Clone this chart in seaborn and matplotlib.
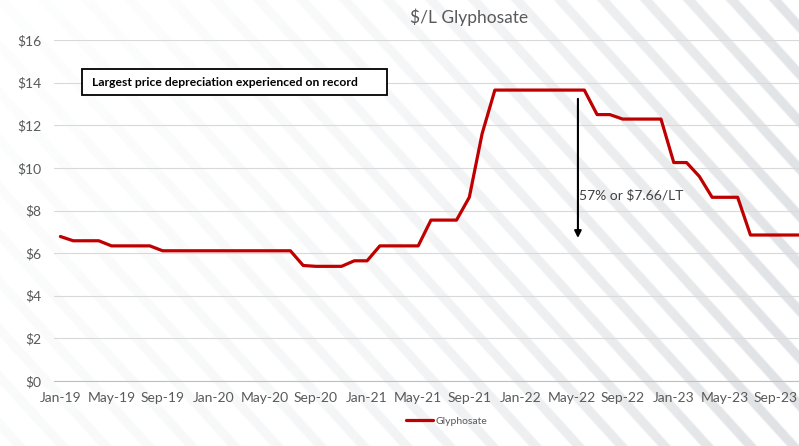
import numpy as np
import pandas as pd
import seaborn as sns
import matplotlib.pyplot as plt
from matplotlib.patches import Rectangle

# Monthly $/L glyphosate price, Jan-19 .. Nov-23
months = pd.date_range("2019-01-01", periods=59, freq="MS")
price = [6.78, 6.58, 6.58, 6.58, 6.34, 6.34, 6.34, 6.34, 6.11, 6.11,
         6.11, 6.11, 6.11, 6.11, 6.11, 6.11, 6.11, 6.11, 6.11, 5.42,
         5.38, 5.38, 5.38, 5.64, 5.64, 6.34, 6.34, 6.34, 6.34, 7.55,
         7.55, 7.55, 8.62, 11.6, 13.65, 13.65, 13.65, 13.65, 13.65, 13.65,
         13.65, 13.65, 12.5, 12.5, 12.29, 12.29, 12.29, 12.29, 10.25, 10.25,
         9.6, 8.62, 8.62, 8.62, 6.85, 6.85, 6.85, 6.85, 6.85]
yticks = list(range(0, 17, 2))
ytick_labels = [f"${v}" for v in yticks]

# drop annotation (May/Jun-22 boundary)
arrow_x = 40.5
arrow_top = 13.37
arrow_bottom = 6.58
arrow_text = "57% or $7.66/LT"
box_text = "Largest price depreciation experienced on record"

df = pd.DataFrame({"month": months, "price": price})
df["idx"] = np.arange(len(df))

sns.set_style("white")
plt.rcParams["font.family"] = ["Lato", "DejaVu Sans"]

W, H = 799, 446
fig = plt.figure(figsize=(W / 100, H / 100), dpi=100)

# diagonal stripe watermark in the background
bg = fig.add_axes([0, 0, 1, 1], zorder=0)
yy, xx = np.mgrid[0:H, 0:W]
s = (xx - yy / 1.1 - 1 + 21.5) % 43
d = np.abs(s - 21.5)
m = np.clip((7.5 - d) / 2.5, 0, 1)
fade = np.clip(0.06 + 0.9 * (xx / W) ** 2.0 + 0.12 * (yy / H), 0, 1)
k = m * fade
img = np.dstack([1 - 0.12 * k, 1 - 0.11 * k, 1 - 0.10 * k])
bg.imshow(img, aspect="auto", extent=[0, 1, 0, 1], interpolation="bilinear")
bg.axis("off")

ax = fig.add_axes([54 / W, 1 - 381 / H, 1 - 54 / W, (381 - 40) / H], zorder=1)
ax.set_facecolor("none")

sns.lineplot(data=df, x="idx", y="price", ax=ax, color="#c00000",
             linewidth=2.3, label="Glyphosate")
handles, labels = ax.get_legend_handles_labels()
ax.get_legend().remove()

ax.set_ylim(0, 16)
ax.set_yticks(yticks)
ax.set_yticklabels(ytick_labels)
ax.set_xlim(-0.5, 57.8)
xt = df["idx"][:57:4]
ax.set_xticks(xt)
ax.set_xticklabels(df["month"][:57:4].dt.strftime("%b-%y"))
ax.set_xticks(np.array(xt) - 0.5, minor=True)
ax.tick_params(axis="x", which="major", length=0, pad=8, labelsize=10, labelcolor="#595959")
ax.tick_params(axis="x", which="minor", length=5, width=0.8, color="#bfbfbf", direction="out")
ax.tick_params(axis="y", length=0, pad=9, labelsize=10, labelcolor="#595959")
ax.set_xlabel("")
ax.set_ylabel("")
ax.grid(axis="y", color="#d9d9d9", linewidth=0.8)
ax.set_axisbelow(True)
for side in ["top", "right", "left"]:
    ax.spines[side].set_visible(False)
ax.spines["bottom"].set_color("#bfbfbf")
ax.spines["bottom"].set_linewidth(0.8)

# arrow and its label
ax.annotate("", xy=(arrow_x, arrow_bottom), xytext=(arrow_x, arrow_top),
            arrowprops=dict(arrowstyle="-|>", color="black", lw=1.5, mutation_scale=10))
ax.text(arrow_x + 0.05, 8.7, arrow_text, ha="left", va="center", fontsize=10, color="#404040")

# title
fig.text(469 / W, 1 - 17 / H, "$/L Glyphosate", ha="center", va="center",
         fontsize=12.5, color="#595959")

# boxed note
fig.add_artist(Rectangle((82 / W, 1 - 95 / H), 305 / W, 26 / H, transform=fig.transFigure,
                         facecolor="white", edgecolor="black", linewidth=1.3, zorder=3))
fig.text(92 / W, 1 - 82 / H, box_text, ha="left", va="center", fontsize=8.7,
         fontweight="bold", color="black", zorder=4)

# legend
fig.legend(handles, labels, loc="center left", bbox_to_anchor=(406 / W, 1 - 421 / H),
           frameon=False, fontsize=7.5, handlelength=2.6, handletextpad=0.2,
           borderpad=0, borderaxespad=0, labelcolor="#595959")

fig.savefig("out.png", dpi=100)
